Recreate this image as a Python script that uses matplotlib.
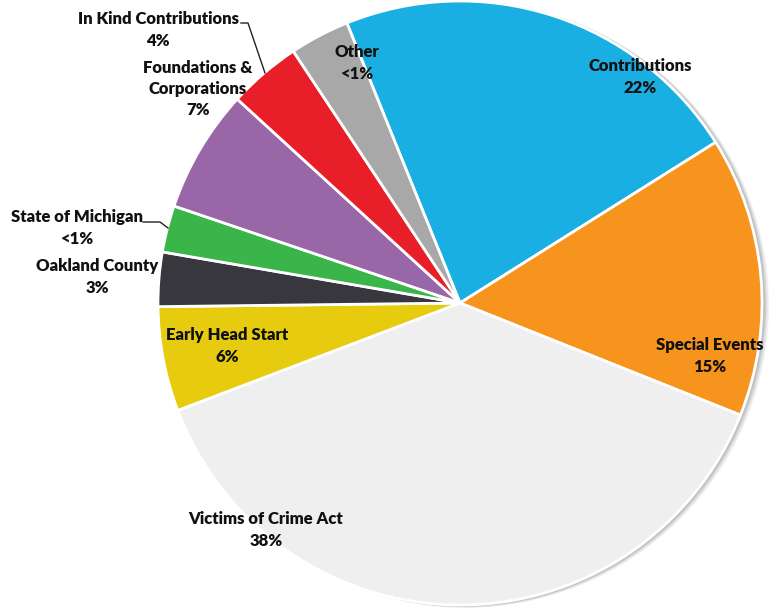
import matplotlib.pyplot as plt
from matplotlib.patches import Circle

# valori (percentuali, in senso orario da "Contributions")
categorie = ['Contributions', 'Special Events', 'Victims of Crime Act', 'Early Head Start',
             'Oakland County', 'State of Michigan', 'Foundations & Corporations',
             'In Kind Contributions', 'Other']
valori = [22.2, 15.0, 38.2, 5.6, 2.9, 2.5, 6.6, 3.9, 3.2]
etichette = ['Contributions\n22%', 'Special Events\n15%', 'Victims of Crime Act\n38%',
             'Early Head Start\n6%', 'Oakland County\n3%', 'State of Michigan\n<1%',
             'Foundations &\nCorporations\n7%', 'In Kind Contributions\n4%', 'Other\n<1%']
colori = ['#1AAFE3', '#F7941D', '#EFEFEF', '#E6CB0E', '#38373D', '#3AB54A',
          '#9966A8', '#E81E28', '#A8A8A8']

# posizioni delle etichette in pixel (x, y dall'alto)
pos_etichette = [(640, 77), (710, 356), (266, 530), (227, 346), (97, 277),
                 (77, 228), (198, 89), (158, 30), (357, 63)]

W, H = 780, 611
cx, cy, r = 460, H - 303, 302

fig = plt.figure(figsize=(W / 100, H / 100), dpi=100)
ax = fig.add_axes([0, 0, 1, 1])
ax.set_xlim(0, W)
ax.set_ylim(0, H)
ax.set_aspect('equal')
ax.axis('off')

# ombra morbida a destra
for k, a in enumerate([0.10, 0.12, 0.16, 0.22]):
    off = 6 - k * 1.3
    ax.add_patch(Circle((cx + off, cy - off * 0.3), r + 1, color='#808080', alpha=a, lw=0, zorder=0))

ax.pie(valori, colors=colori, startangle=112, counterclock=False, center=(cx, cy), radius=r,
       wedgeprops=dict(edgecolor='white', linewidth=2), frame=True)
ax.set_xlim(0, W)
ax.set_ylim(0, H)
ax.axis('off')

for testo, (x, y) in zip(etichette, pos_etichette):
    ax.text(x, H - y, testo, ha='center', va='center', family='Lato', fontweight='heavy',
            fontsize=12, linespacing=1.42, color='#111111', zorder=5)

# linee guida
ax.plot([241, 248, 265], [H - 23, H - 23, H - 73], color='#222222', lw=1, zorder=5)
ax.plot([143, 160, 168], [H - 222, H - 222, H - 228], color='#222222', lw=1, zorder=5)

fig.savefig('out.png', dpi=100)
